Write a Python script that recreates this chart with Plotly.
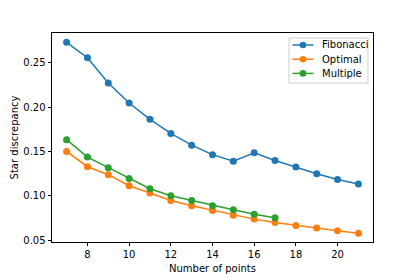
import plotly.graph_objects as go

x_fib = [7, 8, 9, 10, 11, 12, 13, 14, 15, 16, 17, 18, 19, 20, 21]
fibonacci = [0.273, 0.2556, 0.2271, 0.2045, 0.1861, 0.1703, 0.157, 0.1463, 0.139, 0.1485, 0.1398, 0.1323, 0.1248, 0.1184, 0.1131]
x_opt = [7, 8, 9, 10, 11, 12, 13, 14, 15, 16, 17, 18, 19, 20, 21]
optimal = [0.150, 0.1327, 0.1237, 0.1113, 0.103, 0.0947, 0.0887, 0.0834, 0.0781, 0.0736, 0.0699, 0.0665, 0.0635, 0.0605, 0.0578]
x_mul = [7, 8, 9, 10, 11, 12, 13, 14, 15, 16, 17]
multiple = [0.1632, 0.1436, 0.1316, 0.1195, 0.1079, 0.100, 0.0947, 0.0887, 0.0842, 0.0792, 0.0752]

series = [
    ("Fibonacci", x_fib, fibonacci, "#1f77b4"),
    ("Optimal", x_opt, optimal, "#ff7f0e"),
    ("Multiple", x_mul, multiple, "#2ca02c"),
]

# The page body has an 8px margin, so the figure is drawn 8px smaller and shifted.
OFF = 8
W, H = 415 - OFF, 277 - OFF
L, R, T, B = 52 - OFF, 42, 33 - OFF, 35
PW, PH = W - L - R, H - T - B


def px_x(p):
    return (p - OFF - L) / PW


def px_y(p):
    return 1 - (p - OFF - T) / PH


fig = go.Figure()
for name, xs, ys, color in series:
    fig.add_trace(go.Scatter(
        x=xs, y=ys, name=name, mode="lines+markers",
        line=dict(color=color, width=1.5),
        marker=dict(color=color, size=7),
        showlegend=False,
    ))

axis_common = dict(
    showline=True, linecolor="black", linewidth=0.8, mirror=True,
    ticks="outside", ticklen=3.5, tickwidth=0.8, tickcolor="black",
    showgrid=False, zeroline=False, automargin=False,
    tickfont=dict(family="DejaVu Sans", size=10, color="black"),
)

# legend box (custom, matplotlib style)
shapes = [dict(type="rect", xref="paper", yref="paper",
               x0=px_x(289), x1=px_x(368), y0=px_y(83), y1=px_y(38),
               line=dict(color="#cccccc", width=1), fillcolor="rgba(255,255,255,0.8)")]
annotations = []
for i, (name, xs, ys, color) in enumerate(series):
    yc = 45 + 14.2 * i
    shapes.append(dict(type="line", xref="paper", yref="paper",
                       x0=px_x(292.5), x1=px_x(313.5), y0=px_y(yc), y1=px_y(yc),
                       line=dict(color=color, width=1.5)))
    shapes.append(dict(type="circle", xref="paper", yref="paper",
                       x0=px_x(303 - 3.3), x1=px_x(303 + 3.3), y0=px_y(yc + 3.3), y1=px_y(yc - 3.3),
                       line=dict(width=0), fillcolor=color))
    annotations.append(dict(text=name, xref="paper", yref="paper", x=px_x(320), y=px_y(yc),
                            xanchor="left", yanchor="middle", showarrow=False,
                            font=dict(family="DejaVu Sans", size=10, color="black")))

fig.update_layout(
    width=W, height=H,
    margin=dict(l=L, r=R, t=T, b=B),
    paper_bgcolor="white", plot_bgcolor="white",
    font=dict(family="DejaVu Sans", size=10, color="black"),
    xaxis=dict(axis_common, range=[6.3, 21.7], tick0=8, dtick=2,
               title=dict(text="Number of points", font=dict(size=10), standoff=5)),
    yaxis=dict(axis_common, range=[0.0478, 0.2835], tick0=0.05, dtick=0.05, tickformat=".2f",
               title=dict(text="Star discrepancy", font=dict(size=10), standoff=2)),
    shapes=shapes,
    annotations=annotations,
    showlegend=False,
)

fig.write_html("out.html")
